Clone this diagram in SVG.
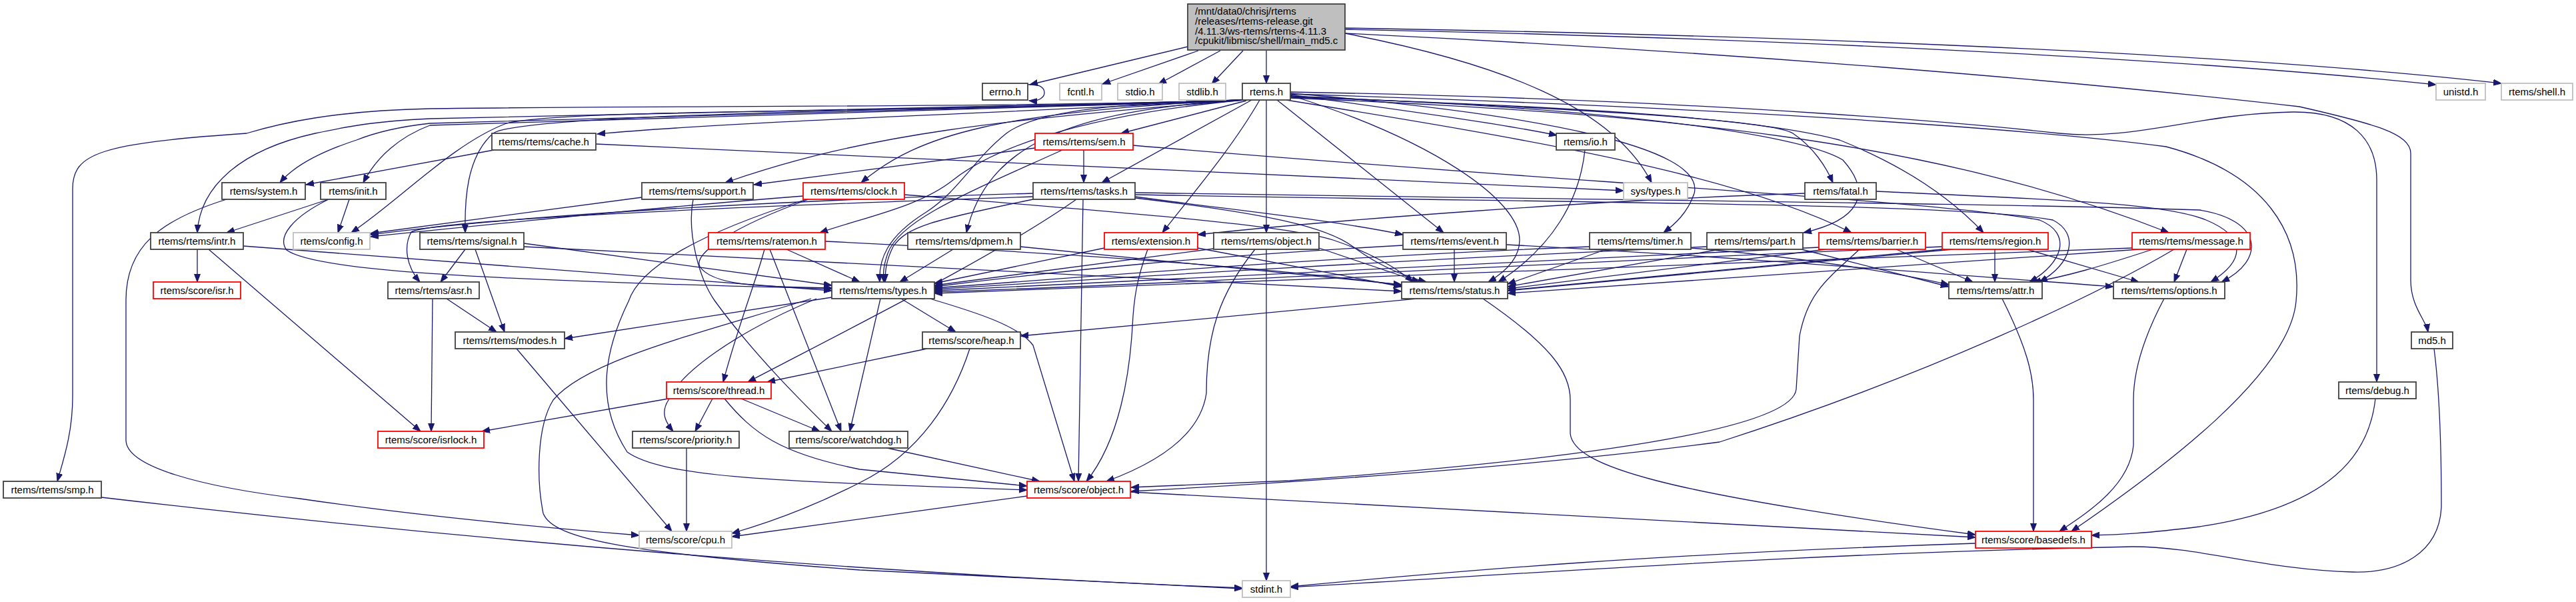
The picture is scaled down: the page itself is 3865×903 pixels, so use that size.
<svg xmlns="http://www.w3.org/2000/svg" width="3865" height="903" viewBox="0 0 3865 903">
<defs>
<marker id="a" markerWidth="13" markerHeight="10" refX="12" refY="5" orient="auto" markerUnits="userSpaceOnUse"><path d="M0,0.5 L12,5 L0,9.5 z" fill="#191970" stroke="#191970" stroke-width="1"/></marker>
<style>
.n rect{fill:#fff;stroke:#404040;stroke-width:1.8}
.g rect{stroke:#bfbfbf}
.r rect{stroke:#ff0000}
text{font-family:"Liberation Sans",Arial,sans-serif;font-size:15px;fill:#000;text-anchor:middle}
.e path{fill:none;stroke:#191970;stroke-width:1.3;marker-end:url(#a)}
</style>
</defs>
<rect width="3865" height="903" fill="#fff"/>
<g class="e" id="edges">
<path d="M1782,70 L1545,127"/>
<path d="M1798,76 L1654,126"/>
<path d="M1831,76 L1738,126"/>
<path d="M1865,76 L1818,126"/>
<path d="M1900,76 L1900,125"/>
<path d="M2018,50 C2250,95 2420,160 2478,274"/>
<path d="M2018,44 C2700,58 3300,90 3655,127"/>
<path d="M2018,42 C2800,55 3400,85 3753,125"/>
<path d="M2018,50 C2600,78 3100,120 3450,160 C3560,185 3617,200 3617,230 L3617,420 C3617,460 3640,480 3643,498"/>
<path d="M1542,127 C1574,122 1576,154 1544,151"/>
<path d="M1864,150 C1500,162 1000,158 645,163 C500,166 420,185 370,200 C150,215 109,230 109,283 L109,594 C109,650 95,690 86,722"/>
<path d="M1864,150 C1400,164 900,170 645,178 C560,182 520,190 473,200 C360,225 300,280 296,349"/>
<path d="M1864,150 C1400,166 900,175 645,185 C600,190 560,200 535,210 C480,228 440,250 420,274"/>
<path d="M1864,150 C1400,168 900,180 645,188 C600,205 565,235 545,274"/>
<path d="M1864,150 C1400,170 850,162 760,185 C680,215 600,300 527,349"/>
<path d="M1864,150 C1500,170 1100,182 896,201"/>
<path d="M1866,150 C1500,180 1300,200 1088,274"/>
<path d="M1864,150 C1300,166 780,172 740,200 C700,235 697,300 698,349"/>
<path d="M1864,150 C1500,168 1380,200 1292,274"/>
<path d="M1866,150 C1600,175 1480,230 1430,270 C1380,310 1300,325 1230,349"/>
<path d="M1866,150 C1600,165 1480,220 1450,349"/>
<path d="M1866,150 C1700,155 1560,162 1510,200 C1460,240 1440,285 1390,318 C1330,355 1318,390 1320,423"/>
<path d="M1870,151 L1682,200"/>
<path d="M1878,150 L1653,274"/>
<path d="M1890,150 C1850,220 1790,290 1744,349"/>
<path d="M1900,150 L1900,349"/>
<path d="M1936,143 C2150,210 2280,300 2280,360 C2280,390 2255,410 2233,423"/>
<path d="M1936,142 C2100,165 2250,185 2336,203"/>
<path d="M1916,150 L2166,349"/>
<path d="M1936,140 C2300,170 2560,220 2542,290 C2532,320 2512,337 2496,349"/>
<path d="M1936,144 C2400,165 2660,180 2690,200 C2720,220 2740,250 2750,274"/>
<path d="M1936,145 C2400,160 2700,200 2765,240 C2810,290 2790,330 2706,349"/>
<path d="M1930,150 C2300,210 2600,260 2778,349"/>
<path d="M1936,146 C2400,160 2650,180 2760,210 C2860,250 2930,300 2976,349"/>
<path d="M1936,147 C2500,170 2900,210 3254,349"/>
<path d="M1936,138 C2600,150 3000,190 3090,200 C3200,212 3300,170 3440,168 C3530,167 3566,210 3566,270 L3566,573"/>
<path d="M1936,141 C2700,165 3100,200 3250,220 C3400,260 3455,350 3445,452 C3435,560 3250,700 3108,797"/>
<path d="M741,225 L459,277"/>
<path d="M894,216 L2436,286"/>
<path d="M1553,222 L1131,277"/>
<path d="M1626,225 L1626,274"/>
<path d="M1594,225 C1450,290 1350,330 1332,380 C1325,400 1325,410 1326,423"/>
<path d="M1700,218 C2300,270 2900,300 3060,330 C3110,350 3095,395 3045,423"/>
<path d="M1703,289 C2400,300 3000,305 3300,315 C3395,330 3400,390 3333,423"/>
<path d="M2815,287 C3100,300 3250,305 3310,330 C3370,355 3370,390 3317,423"/>
<path d="M1703,292 C2400,305 2950,305 3080,330 C3120,350 3110,395 3060,423"/>
<path d="M1550,290 C1200,300 800,320 556,352"/>
<path d="M1550,295 C1100,310 650,330 617,348 C605,370 610,400 630,423"/>
<path d="M1550,299 C1400,330 1360,340 1340,370 C1330,390 1328,405 1328,423"/>
<path d="M1615,299 C1500,380 1300,480 1122,573"/>
<path d="M1625,299 L1618,722"/>
<path d="M1703,295 C1850,315 2000,330 2105,352"/>
<path d="M1703,297 C1900,320 1990,340 2030,370 C2070,400 2110,415 2140,423"/>
<path d="M1205,294 C1000,310 800,330 556,355"/>
<path d="M1213,299 C1100,340 1040,380 1050,400 C1070,430 1150,430 1248,432"/>
<path d="M1357,292 C1700,320 1935,338 2000,360 C2060,380 2100,405 2120,423"/>
<path d="M1210,299 C1050,350 960,400 943,452 C910,520 890,600 941,678 C1000,720 1200,722 1541,735"/>
<path d="M963,296 L556,350"/>
<path d="M1040,299 C1030,350 1050,420 1073,452 C1130,530 1200,600 1248,647"/>
<path d="M493,299 L340,349"/>
<path d="M524,299 L507,349"/>
<path d="M493,299 C440,325 415,355 430,375 C470,405 700,420 1248,433"/>
<path d="M296,374 L296,423"/>
<path d="M313,374 L631,647"/>
<path d="M365,369 L1248,436"/>
<path d="M698,374 L661,423"/>
<path d="M713,374 L757,498"/>
<path d="M786,365 L1248,428"/>
<path d="M786,370 C1300,400 1800,420 2103,437"/>
<path d="M649,448 L647,647"/>
<path d="M670,448 L745,498"/>
<path d="M1147,374 C1135,420 1110,480 1085,573"/>
<path d="M1155,374 L1262,647"/>
<path d="M1180,374 L1290,423"/>
<path d="M1238,362 C1600,380 1900,400 2103,428"/>
<path d="M1430,374 L1350,423"/>
<path d="M1531,370 L2103,427"/>
<path d="M1657,372 L1402,425"/>
<path d="M1797,372 L2103,430"/>
<path d="M1722,374 C1705,420 1701,450 1699,490 C1695,560 1680,660 1630,722"/>
<path d="M1821,373 L1402,428"/>
<path d="M1979,372 L2130,423"/>
<path d="M1883,374 C1830,440 1810,500 1810,590 C1800,660 1720,700 1660,722"/>
<path d="M1900,374 L1900,871"/>
<path d="M2182,374 L2182,423"/>
<path d="M2105,368 C1800,385 1600,405 1402,430"/>
<path d="M2260,367 C2600,385 2900,410 3171,430"/>
<path d="M2385,370 C2000,385 1700,410 1402,432"/>
<path d="M2410,374 L2262,426"/>
<path d="M2537,372 C2700,385 2850,410 2924,427"/>
<path d="M2561,370 C2100,390 1700,415 1402,434"/>
<path d="M2580,374 L2262,430"/>
<path d="M2703,374 L2924,430"/>
<path d="M2729,371 C2200,395 1750,420 1402,436"/>
<path d="M2740,374 L2262,433"/>
<path d="M2845,374 L2960,423"/>
<path d="M2790,374 C2740,420 2712,440 2700,504 L2695,584 C2690,630 2500,680 1935,721 L1697,731"/>
<path d="M2914,370 C2300,395 1800,425 1402,438"/>
<path d="M2930,374 L2262,436"/>
<path d="M2993,374 L2993,423"/>
<path d="M3041,374 L3209,423"/>
<path d="M2914,374 L1531,504"/>
<path d="M3199,372 C2500,400 1900,425 1402,440"/>
<path d="M3210,374 L2262,440"/>
<path d="M3230,374 C3150,400 3100,415 3050,423"/>
<path d="M3281,374 L3262,423"/>
<path d="M3262,374 C3150,440 2900,560 2580,663 C2300,700 1935,724 1697,737"/>
<path d="M2378,225 C2370,300 2330,370 2248,423"/>
<path d="M2708,290 C2400,300 2000,330 1797,352"/>
<path d="M2225,448 C2330,520 2356,560 2356,600 L2356,650 C2360,700 2500,740 2964,802"/>
<path d="M3004,448 C3040,520 3051,560 3051,600 L3051,797"/>
<path d="M3247,448 C3230,480 3201,540 3201,600 L3201,668 C3195,730 3130,770 3090,797"/>
<path d="M3564,598 C3555,680 3500,760 3300,790 C3220,800 3180,802 3138,803"/>
<path d="M3652,523 C3662,600 3663,700 3663,760 C3660,830 3600,860 3530,858 C3400,855 3300,820 3200,820 C2700,830 2300,860 1936,881"/>
<path d="M2964,815 C2500,830 2200,855 1936,880"/>
<path d="M152,746 C700,810 1300,860 1864,882"/>
<path d="M1217,448 C1050,500 880,540 830,600 C805,640 805,720 815,770 C830,810 950,830 1290,855 L1864,883"/>
<path d="M1248,446 L847,508"/>
<path d="M1352,448 L1434,498"/>
<path d="M1225,448 C1100,500 1020,560 1003,600 C990,620 1000,635 1010,647"/>
<path d="M1321,448 L1275,647"/>
<path d="M1395,448 C1470,470 1530,490 1550,518 L1612,722"/>
<path d="M1391,523 L1151,573"/>
<path d="M1455,523 C1430,600 1380,680 1290,724 C1220,760 1150,785 1098,800"/>
<path d="M1003,598 L723,647"/>
<path d="M1069,598 L1043,647"/>
<path d="M1112,598 L1230,647"/>
<path d="M1087,598 C1130,650 1170,680 1290,704 L1541,729"/>
<path d="M1030,672 L1030,797"/>
<path d="M1331,672 L1560,722"/>
<path d="M775,523 L1008,797"/>
<path d="M340,299 C240,330 189,370 189,450 L189,660 C189,700 300,730 450,748 C600,770 800,790 959,803"/>
<path d="M1541,744 L1098,805"/>
<path d="M1696,738 L2964,806"/>
</g>
<g id="main" class="n"><rect x="1782" y="6" width="236" height="69" style="fill:#bfbfbf"/><text x="1793" y="22" style="text-anchor:start">/mnt/data0/chrisj/rtems</text><text x="1793" y="37" style="text-anchor:start">/releases/rtems-release.git</text><text x="1793" y="52" style="text-anchor:start">/4.11.3/ws-rtems/rtems-4.11.3</text><text x="1793" y="66" style="text-anchor:start">/cpukit/libmisc/shell/main_md5.c</text></g>
<g id="errno" class="n"><rect x="1474" y="125" width="68" height="25"/><text x="1508" y="142.5">errno.h</text></g>
<g id="fcntl" class="n g"><rect x="1590" y="125" width="63" height="25"/><text x="1621.5" y="142.5">fcntl.h</text></g>
<g id="stdio" class="n g"><rect x="1677" y="125" width="67" height="25"/><text x="1710.5" y="142.5">stdio.h</text></g>
<g id="stdlib" class="n g"><rect x="1769" y="125" width="70" height="25"/><text x="1804" y="142.5">stdlib.h</text></g>
<g id="rtemsh" class="n"><rect x="1864" y="125" width="72" height="25"/><text x="1900" y="142.5">rtems.h</text></g>
<g id="unistd" class="n g"><rect x="3655" y="125" width="74" height="25"/><text x="3692" y="142.5">unistd.h</text></g>
<g id="shell" class="n g"><rect x="3753" y="125" width="107" height="25"/><text x="3806.5" y="142.5">rtems/shell.h</text></g>
<g id="cache" class="n"><rect x="738" y="200" width="156" height="25"/><text x="816" y="217.5">rtems/rtems/cache.h</text></g>
<g id="sem" class="n r"><rect x="1553" y="200" width="147" height="25"/><text x="1626.5" y="217.5">rtems/rtems/sem.h</text></g>
<g id="io" class="n"><rect x="2335" y="200" width="88" height="25"/><text x="2379" y="217.5">rtems/io.h</text></g>
<g id="system" class="n"><rect x="333" y="274" width="125" height="25"/><text x="395.5" y="291.5">rtems/system.h</text></g>
<g id="init" class="n"><rect x="481" y="274" width="98" height="25"/><text x="530" y="291.5">rtems/init.h</text></g>
<g id="support" class="n"><rect x="963" y="274" width="167" height="25"/><text x="1046.5" y="291.5">rtems/rtems/support.h</text></g>
<g id="clock" class="n r"><rect x="1205" y="274" width="152" height="25"/><text x="1281" y="291.5">rtems/rtems/clock.h</text></g>
<g id="tasks" class="n"><rect x="1550" y="274" width="153" height="25"/><text x="1626.5" y="291.5">rtems/rtems/tasks.h</text></g>
<g id="systypes" class="n g"><rect x="2436" y="274" width="96" height="25"/><text x="2484" y="291.5">sys/types.h</text></g>
<g id="fatal" class="n"><rect x="2708" y="274" width="107" height="25"/><text x="2761.5" y="291.5">rtems/fatal.h</text></g>
<g id="intr" class="n"><rect x="226" y="349" width="139" height="25"/><text x="295.5" y="366.5">rtems/rtems/intr.h</text></g>
<g id="config" class="n g"><rect x="440" y="349" width="115" height="25"/><text x="497.5" y="366.5">rtems/config.h</text></g>
<g id="signal" class="n"><rect x="630" y="349" width="156" height="25"/><text x="708" y="366.5">rtems/rtems/signal.h</text></g>
<g id="ratemon" class="n r"><rect x="1063" y="349" width="175" height="25"/><text x="1150.5" y="366.5">rtems/rtems/ratemon.h</text></g>
<g id="dpmem" class="n"><rect x="1362" y="349" width="169" height="25"/><text x="1446.5" y="366.5">rtems/rtems/dpmem.h</text></g>
<g id="extension" class="n r"><rect x="1657" y="349" width="140" height="25"/><text x="1727" y="366.5">rtems/extension.h</text></g>
<g id="robject" class="n"><rect x="1821" y="349" width="158" height="25"/><text x="1900" y="366.5">rtems/rtems/object.h</text></g>
<g id="event" class="n"><rect x="2105" y="349" width="155" height="25"/><text x="2182.5" y="366.5">rtems/rtems/event.h</text></g>
<g id="timer" class="n"><rect x="2385" y="349" width="152" height="25"/><text x="2461" y="366.5">rtems/rtems/timer.h</text></g>
<g id="part" class="n"><rect x="2561" y="349" width="144" height="25"/><text x="2633" y="366.5">rtems/rtems/part.h</text></g>
<g id="barrier" class="n r"><rect x="2729" y="349" width="160" height="25"/><text x="2809" y="366.5">rtems/rtems/barrier.h</text></g>
<g id="region" class="n r"><rect x="2914" y="349" width="159" height="25"/><text x="2993.5" y="366.5">rtems/rtems/region.h</text></g>
<g id="message" class="n r"><rect x="3199" y="349" width="177" height="25"/><text x="3287.5" y="366.5">rtems/rtems/message.h</text></g>
<g id="isr" class="n r"><rect x="230" y="423" width="131" height="25"/><text x="295.5" y="440.5">rtems/score/isr.h</text></g>
<g id="asr" class="n"><rect x="582" y="423" width="137" height="25"/><text x="650.5" y="440.5">rtems/rtems/asr.h</text></g>
<g id="types" class="n"><rect x="1248" y="423" width="154" height="25"/><text x="1325" y="440.5">rtems/rtems/types.h</text></g>
<g id="status" class="n"><rect x="2103" y="423" width="159" height="25"/><text x="2182.5" y="440.5">rtems/rtems/status.h</text></g>
<g id="attr" class="n"><rect x="2924" y="423" width="140" height="25"/><text x="2994" y="440.5">rtems/rtems/attr.h</text></g>
<g id="options" class="n"><rect x="3171" y="423" width="167" height="25"/><text x="3254.5" y="440.5">rtems/rtems/options.h</text></g>
<g id="modes" class="n"><rect x="683" y="498" width="164" height="25"/><text x="765" y="515.5">rtems/rtems/modes.h</text></g>
<g id="heap" class="n"><rect x="1384" y="498" width="147" height="25"/><text x="1457.5" y="515.5">rtems/score/heap.h</text></g>
<g id="md5" class="n"><rect x="3618" y="498" width="62" height="25"/><text x="3649" y="515.5">md5.h</text></g>
<g id="thread" class="n r"><rect x="1000" y="573" width="157" height="25"/><text x="1078.5" y="590.5">rtems/score/thread.h</text></g>
<g id="debug" class="n"><rect x="3509" y="573" width="116" height="25"/><text x="3567" y="590.5">rtems/debug.h</text></g>
<g id="isrlock" class="n r"><rect x="567" y="647" width="159" height="25"/><text x="646.5" y="664.5">rtems/score/isrlock.h</text></g>
<g id="priority" class="n"><rect x="949" y="647" width="160" height="25"/><text x="1029" y="664.5">rtems/score/priority.h</text></g>
<g id="watchdog" class="n"><rect x="1184" y="647" width="178" height="25"/><text x="1273" y="664.5">rtems/score/watchdog.h</text></g>
<g id="smp" class="n"><rect x="5" y="722" width="147" height="25"/><text x="78.5" y="739.5">rtems/rtems/smp.h</text></g>
<g id="sobject" class="n r"><rect x="1541" y="722" width="155" height="25"/><text x="1618.5" y="739.5">rtems/score/object.h</text></g>
<g id="cpu" class="n g"><rect x="959" y="797" width="139" height="25"/><text x="1028.5" y="814.5">rtems/score/cpu.h</text></g>
<g id="basedefs" class="n r"><rect x="2964" y="797" width="174" height="25"/><text x="3051" y="814.5">rtems/score/basedefs.h</text></g>
<g id="stdint" class="n g"><rect x="1864" y="871" width="72" height="25"/><text x="1900" y="888.5">stdint.h</text></g>
</svg>
